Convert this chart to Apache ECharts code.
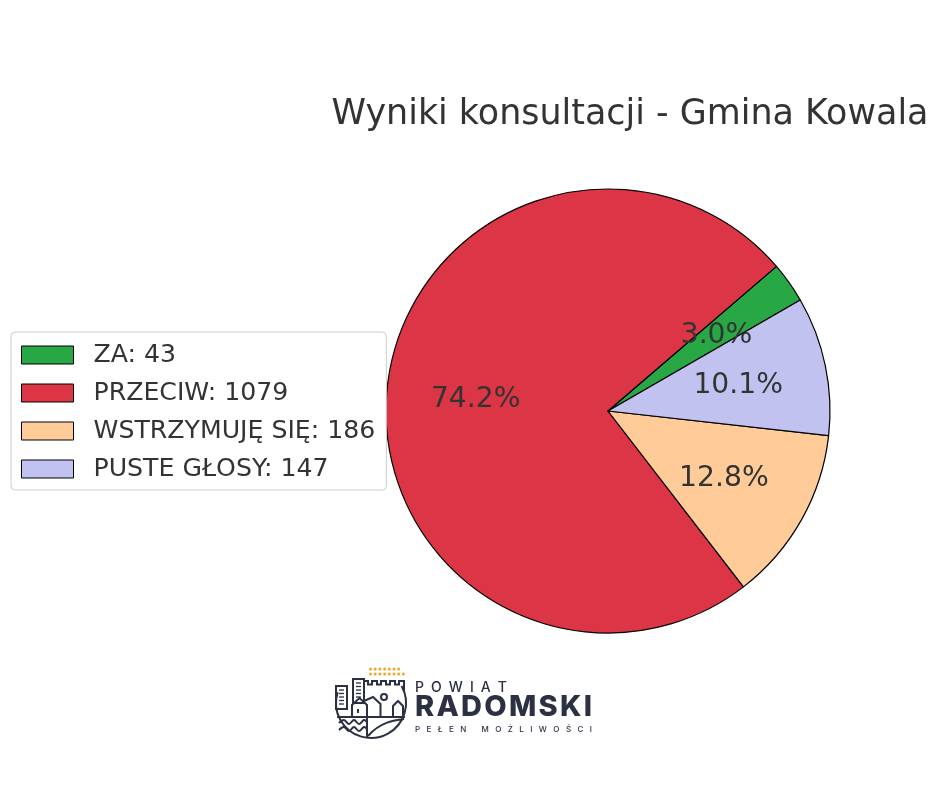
<!DOCTYPE html>
<html>
<head>
<meta charset="utf-8">
<script src="https://cdn.jsdelivr.net/npm/echarts@6/dist/echarts.min.js"></script>
<style>html,body{margin:0;padding:0;background:#fff}#main{width:940px;height:788px}</style>
</head>
<body>
<div id="main"></div>
<script>
const titleText = 'Wyniki konsultacji - Gmina Kowala';
const categories = ['ZA', 'PRZECIW', 'WSTRZYMUJĘ SIĘ', 'PUSTE GŁOSY'];
const values = [43, 1079, 186, 147];
const colors = ['#28a745', '#dc3545', '#ffcc99', '#c2c2f0'];

const total = values.reduce((a, b) => a + b, 0);
const pieData = categories.map((c, i) => ({ name: c, value: values[i], itemStyle: { color: colors[i] } }));
const labelData = categories.map((c, i) => ({ name: c, value: values[i] }));

const NAVY = '#2b3143';
const ORANGE = '#f6a623';
const mctx = document.createElement('canvas').getContext('2d');
function spacedText(str, x0, x1, y, family, weight, size) {
  mctx.font = weight + ' ' + size + 'px ' + family;
  const chars = Array.from(str);
  const ws = chars.map(ch => mctx.measureText(ch).width);
  const sum = ws.reduce((a, b) => a + b, 0);
  const gap = (x1 - x0 - sum) / (chars.length - 1);
  const out = [];
  let x = x0;
  chars.forEach((ch, i) => {
    if (ch !== ' ') {
      out.push({ type: 'text', x: x, y: y, silent: true,
        style: { text: ch, fill: NAVY, font: weight + ' ' + size + 'px ' + family, textAlign: 'left', textVerticalAlign: 'middle' } });
    }
    x += ws[i] + gap;
  });
  return out;
}
const ls = { stroke: NAVY, lineWidth: 2, fill: null };
const logo = [];
// outer arc
logo.push({ type: 'arc', shape: { cx: 371, cy: 703, r: 35, startAngle: -29 * Math.PI / 180, endAngle: 198 * Math.PI / 180, clockwise: true }, style: ls });
// left small building
logo.push({ type: 'rect', shape: { x: 336, y: 686, width: 11, height: 23 }, style: ls });
[690, 693.5, 697, 700.5, 704].forEach(yy => logo.push({ type: 'line', shape: { x1: 339, y1: yy, x2: 344, y2: yy }, style: { stroke: NAVY, lineWidth: 1.3 } }));
// tall building
logo.push({ type: 'rect', shape: { x: 353, y: 679, width: 11, height: 24 }, style: ls });
[683, 686.5, 690, 693.5, 697].forEach(yy => logo.push({ type: 'line', shape: { x1: 356, y1: yy, x2: 361, y2: yy }, style: { stroke: NAVY, lineWidth: 1.3 } }));
// castle wall
logo.push({ type: 'polyline', shape: { points: [[364, 690], [364, 681], [368, 681], [368, 684.5], [372, 684.5], [372, 681], [377, 681], [377, 684.5], [381, 684.5], [381, 681], [386, 681], [386, 684.5], [390, 684.5], [390, 681], [395, 681], [395, 684.5], [399, 684.5], [399, 681], [404, 681], [404, 692]] }, style: ls });
logo.push({ type: 'circle', shape: { cx: 384, cy: 697, r: 3 }, style: ls });
// houses
logo.push({ type: 'polyline', shape: { points: [[352, 717], [352, 705], [359.5, 698], [367, 705], [367, 717]] }, style: ls });
logo.push({ type: 'polyline', shape: { points: [[364, 701], [373, 697], [380.5, 704], [380.5, 717]] }, style: ls });
logo.push({ type: 'polyline', shape: { points: [[393, 717], [393, 706], [398, 701], [403, 706], [403, 717]] }, style: ls });
logo.push({ type: 'line', shape: { x1: 358, y1: 709, x2: 358, y2: 713 }, style: ls });
logo.push({ type: 'line', shape: { x1: 337, y1: 717, x2: 405, y2: 717 }, style: ls });
// waves
[723, 730].forEach(yy => logo.push({ type: 'polyline', shape: { smooth: 0.4, points: [[339, yy], [344, yy - 3], [349, yy + 1], [354, yy - 3], [359, yy + 1], [364, yy - 3], [367, yy - 1]] }, style: ls }));
logo.push({ type: 'line', shape: { x1: 367, y1: 717, x2: 367, y2: 737 }, style: ls });
logo.push({ type: 'bezierCurve', shape: { x1: 368, y1: 736, x2: 404, y2: 719, cpx1: 380, cpy1: 722, cpx2: 395, cpy2: 720 }, style: ls });
// dots
for (let i = 0; i < 7; i++) logo.push({ type: 'circle', shape: { cx: 370.5 + i * 4.7, cy: 669, r: 1.5 }, style: { fill: ORANGE } });
for (let i = 0; i < 8; i++) logo.push({ type: 'circle', shape: { cx: 370.5 + i * 4.7, cy: 674, r: 1.5 }, style: { fill: ORANGE } });
// texts
logo.push(...spacedText('POWIAT', 415, 507, 687.5, 'Inter, sans-serif', '500', 14));
logo.push(...spacedText('RADOMSKI', 415, 592, 707.5, 'Inter, sans-serif', '800', 29));
logo.push(...spacedText('PEŁEN MOŻLIWOŚCI', 415, 592, 730, 'Inter, sans-serif', '500', 8));
logo.forEach(e => e.silent = true);

const chart = echarts.init(document.getElementById('main'), null, { renderer: 'canvas' });
chart.setOption({
  animation: false,
  backgroundColor: '#fff',
  legend: {
    orient: 'vertical', left: 11, top: 332,
    padding: [9, 11, 7, 10],
    data: categories,
    icon: 'rect', itemWidth: 52, itemHeight: 18, itemGap: 10,
    backgroundColor: '#fff', borderColor: '#cccccc', borderWidth: 1, borderRadius: 4,
    itemStyle: { borderColor: '#000', borderWidth: 1 },
    textStyle: { fontFamily: 'DejaVu Sans', fontSize: 25.2, color: '#333', lineHeight: 28, padding: [0, 0, 0, 15] },
    formatter: name => name + ': ' + values[categories.indexOf(name)],
    selectedMode: false
  },
  graphic: [
    { type: 'text', x: 630, y: 115, silent: true,
      style: { text: titleText, fill: '#333', font: '34.9px "DejaVu Sans"', textAlign: 'center', textVerticalAlign: 'middle' } },
    ...logo
  ],
  series: [
    {
      type: 'pie', center: [608, 411], radius: 222,
      startAngle: 30, clockwise: false,
      label: { show: false }, labelLine: { show: false },
      itemStyle: { borderColor: '#000', borderWidth: 1.2 },
      emphasis: { disabled: true },
      data: pieData
    },
    {
      type: 'pie', center: [608, 411], radius: [38, 222],
      startAngle: 30, clockwise: false, silent: true,
      itemStyle: { color: 'rgba(0,0,0,0)', borderWidth: 0 },
      label: { show: true, position: 'inside', fontFamily: 'DejaVu Sans', fontSize: 28.2, color: '#333', offset: [0, 2],
        formatter: p => (p.value / total * 100).toFixed(1) + '%' },
      labelLine: { show: false },
      emphasis: { disabled: true },
      data: labelData
    }
  ]
});
</script>
</body>
</html>
